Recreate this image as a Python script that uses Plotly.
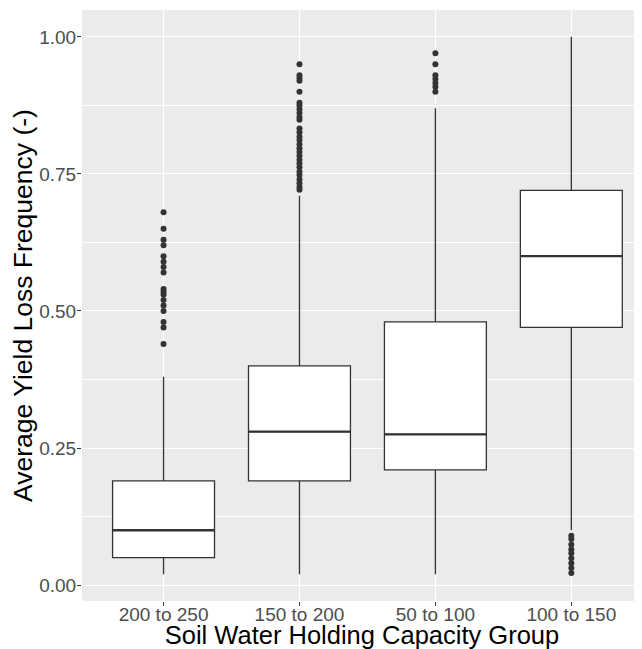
import plotly.graph_objects as go

categories = ["200 to 250", "150 to 200", "50 to 100", "100 to 150"]
q1 = [0.05, 0.19, 0.21, 0.47]
median = [0.10, 0.28, 0.275, 0.60]
q3 = [0.19, 0.40, 0.48, 0.72]
lower_whisker = [0.02, 0.02, 0.02, 0.10]
upper_whisker = [0.38, 0.71, 0.87, 1.00]

outliers_200_250 = [0.68, 0.65, 0.63, 0.62, 0.60, 0.59, 0.58, 0.57, 0.54, 0.535,
                    0.53, 0.52, 0.51, 0.50, 0.48, 0.47, 0.44]
outliers_150_200 = [0.95, 0.93, 0.925, 0.92, 0.90, 0.88, 0.875, 0.868, 0.861, 0.854,
                    0.849, 0.833, 0.826, 0.818, 0.812, 0.804, 0.797, 0.79, 0.783,
                    0.776, 0.769, 0.762, 0.754, 0.748, 0.74, 0.733, 0.726, 0.721]
outliers_50_100 = [0.97, 0.95, 0.93, 0.923, 0.916, 0.909, 0.90]
outliers_100_150 = [0.09, 0.084, 0.074, 0.065, 0.058, 0.049, 0.04, 0.031, 0.022]
outliers = [outliers_200_250, outliers_150_200, outliers_50_100, outliers_100_150]

y_ticks = [0.0, 0.25, 0.5, 0.75, 1.0]
y_tick_labels = ["0.00", "0.25", "0.50", "0.75", "1.00"]
y_minor_ticks = [0.125, 0.375, 0.625, 0.875]

box_width = 0.75
line_col = "#333333"
positions = list(range(len(categories)))

fig = go.Figure()
fig.add_trace(go.Box(
    x=positions, q1=q1, median=median, q3=q3,
    lowerfence=lower_whisker, upperfence=upper_whisker,
    width=box_width, whiskerwidth=0, boxpoints=False,
    fillcolor="white", line=dict(color=line_col, width=1.3),
    showlegend=False, hoverinfo="skip",
))

# thicker median lines (ggplot fatten)
mx, my = [], []
for i, m in zip(positions, median):
    mx += [i - box_width / 2, i + box_width / 2, None]
    my += [m, m, None]
fig.add_trace(go.Scatter(x=mx, y=my, mode="lines",
                         line=dict(color=line_col, width=2.4),
                         showlegend=False, hoverinfo="skip"))

ox, oy = [], []
for i, vals in zip(positions, outliers):
    ox += [i] * len(vals)
    oy += vals
fig.add_trace(go.Scatter(x=ox, y=oy, mode="markers",
                         marker=dict(color=line_col, size=6),
                         showlegend=False, hoverinfo="skip"))

fig.update_layout(
    width=634, height=641,
    margin=dict(l=74, r=0, t=2, b=48),
    paper_bgcolor="white", plot_bgcolor="#EBEBEB",
    font=dict(family="Liberation Sans, Arial, sans-serif"),
)
fig.update_xaxes(
    range=[-0.6, 3.52], tickmode="array", tickvals=positions, ticktext=categories,
    showgrid=True, gridcolor="white", gridwidth=1.1, zeroline=False,
    ticks="outside", ticklen=4, tickwidth=1, tickcolor=line_col,
    tickfont=dict(size=19, color="#4D4D4D"), ticklabelstandoff=-8,
    title=dict(text="Soil Water Holding Capacity Group", font=dict(size=25.5, color="black"), standoff=0),
    showline=False, automargin=False,
)
fig.update_yaxes(
    range=[-0.029, 1.049], tickmode="array", tickvals=y_ticks, ticktext=y_tick_labels,
    showgrid=True, gridcolor="white", gridwidth=1.1, zeroline=False,
    minor=dict(tickmode="array", tickvals=y_minor_ticks,
               showgrid=True, gridcolor="white", gridwidth=0.5, ticks=""),
    ticks="outside", ticklen=4, tickwidth=1, tickcolor=line_col,
    tickfont=dict(size=19, color="#4D4D4D"), ticklabelstandoff=-3,
    title=dict(text="Average Yield Loss Frequency (-)", font=dict(size=26.5, color="black"), standoff=0),
    showline=False, automargin=False,
)

fig.write_html("out.html")
